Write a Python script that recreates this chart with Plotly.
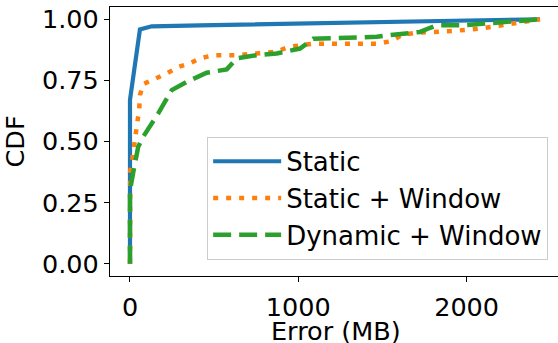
import plotly.graph_objects as go

# Static
static_x = [0, 0, 59, 129, 416, 1010, 2436]
static_y = [0.0, 0.67, 0.958, 0.971, 0.975, 0.982, 1.0]

# Static + Window
sw_x = [0, 0, 1, 14, 26, 46, 55, 59, 79, 149, 218, 287, 356, 416, 495, 634, 792, 872, 941, 1020,
        1089, 1476, 1555, 1614, 1693, 1921, 2080, 2298, 2436]
sw_y = [0.0, 0.33, 0.377, 0.43, 0.48, 0.59, 0.635, 0.69, 0.735, 0.755, 0.778, 0.805, 0.82, 0.84,
        0.853, 0.853, 0.86, 0.867, 0.887, 0.894, 0.90, 0.90, 0.911, 0.935, 0.944, 0.952, 0.962,
        0.985, 1.0]

# Dynamic + Window
dw_x = [0, 0, 20, 49, 79, 168, 248, 337, 456, 575, 634, 753, 872, 1010, 1089, 1466, 1545, 1723,
        1773, 1822, 1980, 2198, 2436]
dw_y = [0.0, 0.30, 0.377, 0.479, 0.52, 0.615, 0.71, 0.744, 0.781, 0.795, 0.84, 0.853, 0.86, 0.88,
        0.92, 0.928, 0.935, 0.948, 0.962, 0.975, 0.975, 0.985, 1.0]

x_ticks = [0, 1000, 2000]
y_ticks = [0.0, 0.25, 0.5, 0.75, 1.0]
y_tick_text = ["0.00", "0.25", "0.50", "0.75", "1.00"]
x_title = "Error (MB)"
y_title = "CDF"

FONT = "DejaVu Sans"
FS = 25.5
LFS = 26

fig = go.Figure()
fig.add_trace(go.Scatter(x=static_x, y=static_y, mode="lines", name="Static",
                         legendgroup="a",
                         line=dict(color="#1f77b4", width=4.2)))
fig.add_trace(go.Scatter(x=sw_x, y=sw_y, mode="lines", name="Static + Window",
                         legendgroup="b",
                         line=dict(color="#ff7f0e", width=4.5, dash="5px,8px")))
fig.add_trace(go.Scatter(x=dw_x, y=dw_y, mode="lines", name="Dynamic + Window",
                         legendgroup="c",
                         line=dict(color="#2ca02c", width=4.5, dash="18px,8px")))

axis_common = dict(
    showgrid=False, zeroline=False, showline=True, linecolor="black", linewidth=1.2,
    ticks="outside", ticklen=5, tickwidth=1.2, tickcolor="black", automargin=False,
    tickfont=dict(family=FONT, size=FS, color="black"),
)

fig.update_layout(
    width=558, height=343,
    margin=dict(l=110, r=0, t=7, b=67),
    paper_bgcolor="white", plot_bgcolor="white",
    font=dict(family=FONT, size=FS, color="black"),
    xaxis=dict(range=[-118.8, 2543], tickvals=x_ticks, mirror=True, ticklabelstandoff=3,
               **axis_common),
    yaxis=dict(range=[-0.05, 1.05], tickvals=y_ticks, ticktext=y_tick_text,
               title=dict(text=y_title, font=dict(family=FONT, size=FS), standoff=10),
               **axis_common),
    legend=dict(x=0.978, y=0.06, xanchor="right", yanchor="bottom",
                bgcolor="rgba(255,255,255,0.8)", bordercolor="#cccccc", borderwidth=1,
                font=dict(family=FONT, size=LFS, color="black"),
                itemwidth=68,
                traceorder="grouped", tracegroupgap=0),
    showlegend=True,
    annotations=[dict(text=x_title, xref="paper", yref="paper", x=0.505, y=-0.203,
                      xanchor="center", yanchor="middle", showarrow=False,
                      font=dict(family=FONT, size=FS, color="black"))],
)

fig.write_html("out.html", config={"displayModeBar": False},
               post_script="document.body.style.margin='0';document.body.style.padding='0';")
